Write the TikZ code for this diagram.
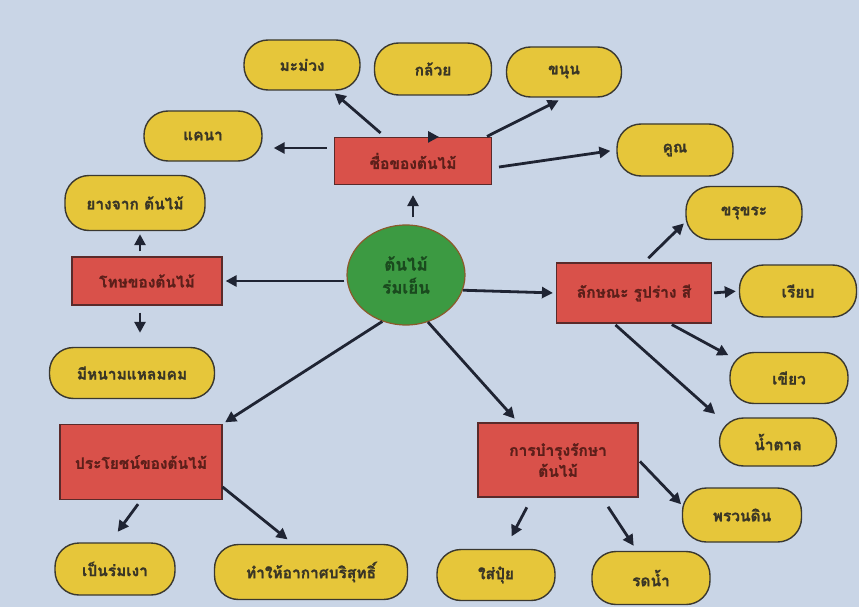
\documentclass[tikz,border=0pt]{standalone}
\usepackage{fontspec}
\newfontfamily\thaifont[Script=Thai,BoldFeatures={FakeBold=1.2}]{Loma}
\usetikzlibrary{shapes.geometric,arrows.meta}
\definecolor{bg}{HTML}{C9D5E6}
\definecolor{pillfill}{HTML}{E6C63A}
\definecolor{pilledge}{HTML}{3A3830}
\definecolor{pilltext}{HTML}{3A3626}
\definecolor{boxfill}{HTML}{D9514A}
\definecolor{boxedge}{HTML}{5A2A2A}
\definecolor{boxtext}{HTML}{5C1F1A}
\definecolor{circfill}{HTML}{3C9A42}
\definecolor{circedge}{HTML}{8B5A2B}
\definecolor{circtext}{HTML}{1A4A1E}
\definecolor{arrcol}{HTML}{1F2433}
\tikzset{
  pill/.style={draw=pilledge, line width=1.4pt, fill=pillfill, rounded corners=24pt,
    minimum width=117pt, minimum height=51pt, text=pilltext, inner sep=0pt},
  redbox/.style={draw=boxedge, line width=1.2pt, fill=boxfill, text=boxtext,
    inner sep=0pt, align=center},
  arr/.style={draw=arrcol, line width=2.8pt, -{Triangle[length=11pt,width=11pt]}}
}
\begin{document}
\begin{tikzpicture}[x=1pt,y=-1pt, font=\thaifont\bfseries\fontsize{15.5}{21}\selectfont]
\fill[bg] (0,0) rectangle (859,607);
\useasboundingbox (0,0) rectangle (859,607);

% centre
\node[ellipse, draw=circedge, line width=1.2pt, fill=circfill, text=circtext,
  minimum width=118pt, minimum height=100pt, inner sep=0pt, align=center,
  font=\thaifont\bfseries\fontsize{17}{23}\selectfont]
  (circ) at (406,275) {ต้นไม้\\ร่มเย็น};

% red boxes
\node[redbox, minimum width=157pt, minimum height=47pt] (chue) at (413,161) {ชื่อของต้นไม้};
\node[redbox, minimum width=150pt, minimum height=48pt] (thot) at (147,281) {โทษของต้นไม้};
\node[redbox, minimum width=155pt, minimum height=60pt] (laksana) at (634,293) {ลักษณะ รูปร่าง สี};
\node[redbox, minimum width=162pt, minimum height=75pt] (prayot) at (141,462) {ประโยชน์ของต้นไม้};
\node[redbox, minimum width=160pt, minimum height=74pt] (bamrung) at (558,460) {การบำรุงรักษา\\ต้นไม้};

% pills
\node[pill, minimum width=116pt, minimum height=50pt] (mamuang) at (302,65) {มะม่วง};
\node[pill, minimum height=52pt] (kluai) at (433,69) {กล้วย};
\node[pill, minimum width=115pt, minimum height=50pt] (khanun) at (564,72) {ขนุน};
\node[pill, minimum width=116pt, minimum height=52pt] (khun) at (675,150) {คูณ};
\node[pill, minimum width=118pt, minimum height=50pt] (khaena) at (203,136) {แคนา};
\node[pill, minimum width=140pt, minimum height=55pt] (yang) at (135,203) {ยางจาก ต้นไม้};
\node[pill, minimum width=165pt, minimum height=51pt] (mihnam) at (132,373) {มีหนามแหลมคม};
\node[pill, minimum width=116pt, minimum height=53pt] (khrukhra) at (744,213) {ขรุขระ};
\node[pill, minimum height=52pt] (riap) at (798,291) {เรียบ};
\node[pill, minimum width=118pt, minimum height=51pt] (khiao) at (789,378) {เขียว};
\node[pill, minimum height=48pt] (namtan) at (778,442) {น้ำตาล};
\node[pill, minimum width=120pt, minimum height=52pt] (penrom) at (115,569) {เป็นร่มเงา};
\node[pill, minimum width=193pt, minimum height=55pt] (thamhai) at (311,572) {ทำให้อากาศบริสุทธิ์};
\node[pill, minimum width=119pt, minimum height=54pt] (phruan) at (742,515) {พรวนดิน};
\node[pill, minimum width=118pt, minimum height=51pt] (saipui) at (496,575) {ใส่ปุ๋ย};
\node[pill, minimum width=118pt, minimum height=53pt] (rotnam) at (651,578) {รดน้ำ};

% arrows: centre
\draw[arr, shorten <=7pt, shorten >=10pt] (chue.south |- circ.north) -- (chue.south);
\draw[arr, shorten <=2pt, shorten >=3pt] (circ.west |- thot.east) -- (thot.east);
\draw[arr, shorten >=3pt] (circ.345) -- (laksana.west);
\draw[arr, shorten >=3pt] (circ.243) -- (prayot.north east);
\draw[arr, shorten >=5pt] (circ.295) -- ([xshift=-40pt]bamrung.north);

% names of trees
\draw[arr, shorten <=6pt, shorten >=4pt] (chue) -- (mamuang);
\draw[arr, shorten <=1pt, shorten >=10pt] ([xshift=16pt]chue.north) -- ([xshift=16pt]chue.north -| kluai.south);
\draw[arr, shorten <=1pt, shorten >=6pt] ([xshift=-6pt]chue.north east) -- (khanun.south);
\draw[arr, shorten <=7pt, shorten >=6pt] ([yshift=-7pt]chue.east) -- (khun.west);
\draw[arr, shorten <=7pt, shorten >=11pt] ([yshift=13pt]chue.west) -- ([yshift=13pt]chue.west -| khaena.east);

% harms
\draw[arr, shorten <=5pt, shorten >=3pt] ([xshift=-7pt]thot.north) -- ([xshift=-7pt]thot.north |- yang.south);
\draw[arr, shorten <=7pt, shorten >=14pt] ([xshift=-7pt]thot.south) -- ([xshift=-7pt]thot.south |- mihnam.north);

% features
\draw[arr, shorten <=6pt, shorten >=2pt] ([xshift=10pt]laksana.north) -- ([yshift=-9pt]khrukhra.west);
\draw[arr, shorten <=2pt, shorten >=3pt] (laksana.east) -- (riap.west);
\draw[arr, shorten <=2pt, shorten >=1pt] ([xshift=36pt]laksana.south) -- ([yshift=-4pt]khiao.north west);
\draw[arr, shorten <=2pt, shorten >=5pt] ([xshift=-20pt]laksana.south) -- (namtan.north west);

% benefits
\draw[arr, shorten <=5pt, shorten >=13pt] (prayot.south) -- ([xshift=-5pt]penrom.north);
\draw[arr, shorten >=7pt] ([yshift=-25pt]prayot.east) -- ([xshift=-18pt]thamhai.north);

% care
\draw[arr, shorten <=11pt, shorten >=14pt] ([xshift=-26pt]bamrung.south) -- ([xshift=9pt]saipui.north);
\draw[arr, shorten <=11pt, shorten >=6pt] ([xshift=44pt]bamrung.south) -- ([xshift=-14pt]rotnam.north);
\draw[arr, shorten <=2pt, shorten >=1pt] (bamrung.east) -- ([yshift=10pt]phruan.west);
\end{tikzpicture}
\end{document}
